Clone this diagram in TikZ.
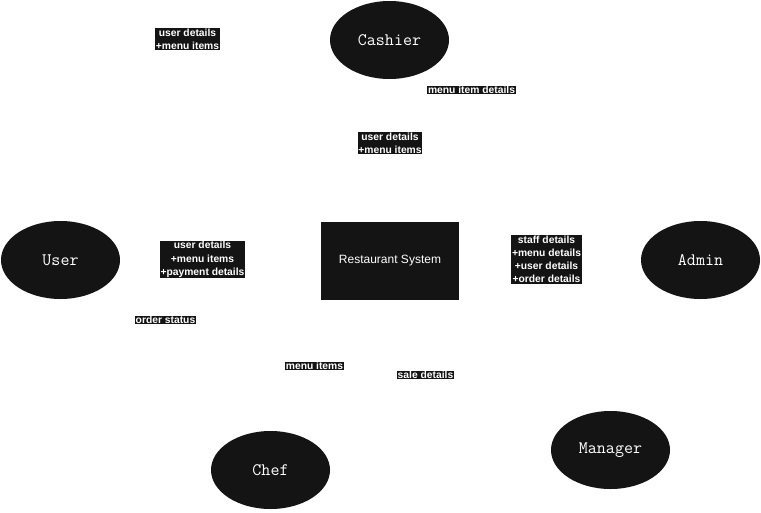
\documentclass[tikz,border=0pt]{standalone}
\usepackage{fontspec}
\setmainfont{Liberation Sans}
\usetikzlibrary{shapes.geometric}
\definecolor{ink}{HTML}{141414}
\tikzset{
  actor/.style={ellipse, fill=ink, minimum width=119pt, minimum height=78pt, inner sep=0pt,
    text=white, font=\ttfamily\fontsize{17.5}{20}\selectfont},
  sysbox/.style={rectangle, fill=ink, minimum width=138pt, minimum height=78pt, inner sep=0pt,
    text=white, font=\fontsize{12}{14}\selectfont},
  flowlbl/.style={rectangle, fill=ink, text=white, inner xsep=0.6pt, inner ysep=0.6pt, align=center,
    font=\bfseries\fontsize{10.3}{13.2}\selectfont}
}
\begin{document}
\begin{tikzpicture}[x=1pt,y=-1pt]
\useasboundingbox (0,0) rectangle (761,512);
\node[actor] (cashier) at (389.5,40) {Cashier};
\node[actor] (user) at (60.5,260) {User};
\node[actor] (admin) at (700.5,260) {Admin};
\node[actor] (chef) at (270.5,470) {Chef};
\node[actor] (manager) at (610.5,450) {Manager};
\node[sysbox] (sys) at (390,261) {Restaurant System};
\node[flowlbl] (l1) at (187.5,39) {user details\\+menu items};
\node[flowlbl] (l2) at (471.5,90) {menu item details};
\node[flowlbl] (l3) at (390,143) {user details\\+menu items};
\node[flowlbl] (l4) at (202.5,259.5) {user details\\+menu items\\+payment details};
\node[flowlbl] (l5) at (165.5,320) {order status};
\node[flowlbl] (l6) at (546.5,259.5) {staff details\\+menu details\\+user details\\+order details};
\node[flowlbl] (l7) at (314.5,366) {menu items};
\node[flowlbl] (l8) at (425.5,375) {sale details};
\end{tikzpicture}
\end{document}
